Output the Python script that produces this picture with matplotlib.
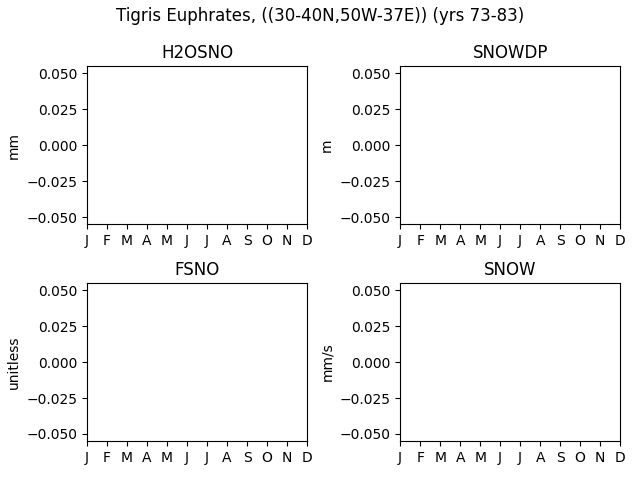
import numpy as np
import matplotlib
matplotlib.use('Agg')
import matplotlib.pyplot as plt

months = ['J', 'F', 'M', 'A', 'M', 'J', 'J', 'A', 'S', 'O', 'N', 'D']
variables = ['H2OSNO', 'SNOWDP', 'FSNO', 'SNOW']
units = ['mm', 'm', 'unitless', 'mm/s']
# no valid data in the region -> all missing
h2osno = [np.nan] * 12
snowdp = [np.nan] * 12
fsno = [np.nan] * 12
snow = [np.nan] * 12
series = [h2osno, snowdp, fsno, snow]

fig, axes = plt.subplots(2, 2, figsize=(6.4, 4.8), dpi=100)
for ax, name, unit, vals in zip(axes.flat, variables, units, series):
    ax.plot(range(12), vals)
    ax.set_title(name)
    ax.set_ylabel(unit)
    ax.set_xticks(range(12))
    ax.set_xticklabels(months)
    ax.set_xlim(0, 11)
    ax.set_ylim(-0.055, 0.055)

fig.suptitle('Tigris Euphrates, ((30-40N,50W-37E)) (yrs 73-83)', y=0.985)
fig.subplots_adjust(left=0.136, right=0.969, top=0.862, bottom=0.081,
                    wspace=0.423, hspace=0.372)
fig.savefig('out.png')
